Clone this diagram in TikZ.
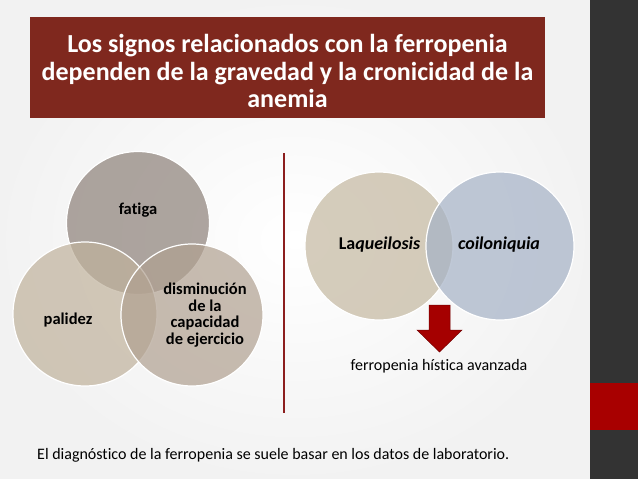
\documentclass[tikz,border=0pt]{standalone}
\usepackage{fontspec}
\setmainfont{Carlito}[Ligatures=CommonOff]
\definecolor{titlered}{RGB}{127,40,30}
\definecolor{barbg}{RGB}{51,51,51}
\definecolor{barred}{RGB}{168,0,0}
\definecolor{cfat}{RGB}{140,128,120}
\definecolor{cpal}{RGB}{192,178,156}
\definecolor{cdis}{RGB}{176,160,144}
\definecolor{claq}{RGB}{196,184,160}
\definecolor{ccoi}{RGB}{165,178,198}
\definecolor{arrowred}{RGB}{165,0,0}
\definecolor{linered}{RGB}{140,30,30}
\tikzset{
  venn/.style={circle, minimum size=#1, inner sep=0pt, fill opacity=0.7, text opacity=1, draw=white, line width=1.2pt},
  lbl/.style={font=\fontsize{16.5}{19}\selectfont\bfseries, align=center, text=black, inner sep=0pt},
  plain/.style={font=\fontsize{16}{18}\selectfont, text=black, inner sep=0pt}
}
\begin{document}
\begin{tikzpicture}[x=1pt,y=-1pt]
\useasboundingbox (0,0) rectangle (638,479);
% background
\shade[inner color=white, outer color=black!5] (0,0) rectangle (590,479);
\fill[barbg] (590,0) rectangle (638,479);
\fill[barred] (590,383) rectangle (638,430);
% title
\node[fill=titlered, minimum width=515pt, minimum height=101pt, inner sep=0pt] (title) at (287.5,67.5) {};
\node[font=\fontsize{26}{27.5}\selectfont\bfseries, text=white, align=center, inner sep=0pt] (titletext) at (287.5,71)
  {Los signos relacionados con la ferropenia\\dependen de la gravedad y la cronicidad de la\\anemia};
% divider
\coordinate (ltop) at (284,153);
\coordinate (lbot) at (284,413);
\draw[linered, line width=1.5pt] (ltop) -- (lbot);
% left venn
\node[venn=143pt, fill=cfat] (fat) at (138,223) {};
\node[venn=144pt, fill=cpal] (pal) at (85,314) {};
\node[venn=142pt, fill=cdis] (dis) at (192,315) {};
\node[lbl] (fattxt) at (138,210) {fatiga};
\node[lbl] (paltxt) at (68,320) {palidez};
\node[lbl, font=\fontsize{16.5}{16.7}\selectfont\bfseries] (distxt) at (205,315) {disminución\\de la\\capacidad\\de ejercicio};
% right venn
\node[venn=148pt, fill=claq] (laq) at (379,246) {};
\node[venn=148pt, fill=ccoi] (coi) at (500,246) {};
\node[lbl, font=\fontsize{18}{20}\selectfont\bfseries] (laqtxt) at (379.5,245) {La\textit{queilosis}};
\node[lbl, font=\fontsize{18}{20}\selectfont\bfseries\itshape] (coitxt) at (499,245) {coiloniquia};
% arrow
\fill[arrowred, draw=arrowred!70!black, line width=0.5pt] (429,305) -- (450,305) -- (450,330) -- (462,330) -- (439.5,352) -- (417,330) -- (429,330) -- cycle;
\node[plain] (ferro) at (439,366) {ferropenia hística avanzada};
% bottom text
\node[plain, anchor=west] (diag) at (37,455) {El diagnóstico de la ferropenia se suele basar en los datos de laboratorio.};
\end{tikzpicture}
\end{document}
